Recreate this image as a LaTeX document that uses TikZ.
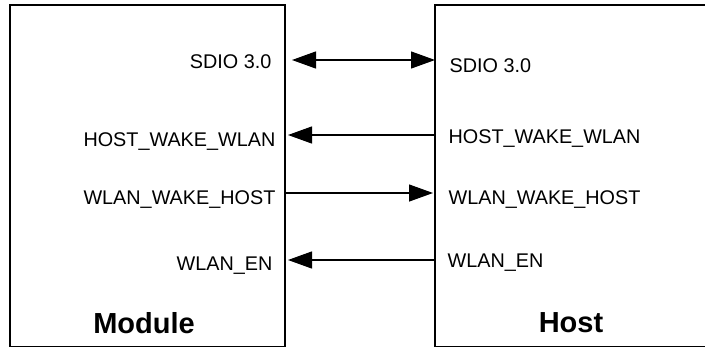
\documentclass[tikz,border=0pt]{standalone}
\usepackage{fontspec}
\setmainfont{Liberation Sans}
\usetikzlibrary{arrows.meta}

\begin{document}
\begin{tikzpicture}[x=1pt, y=-1pt, line width=1.3pt,
    sig/.style={font=\fontsize{19.8}{22}\selectfont, inner sep=0pt},
    title/.style={font=\fontsize{29}{32}\selectfont\bfseries, inner sep=0pt},
    tip/.style={-{Triangle[length=24pt,width=17pt]}},
    bothtips/.style={{Triangle[length=24pt,width=17pt]}-{Triangle[length=24pt,width=17pt]}}]
    \useasboundingbox (0,0) rectangle (705,346);
    \clip (0,0) rectangle (705,346);
    % the two blocks
    \node[draw, anchor=north west, minimum width=275pt, minimum height=342pt, outer sep=0pt] (module) at (10,5) {};
    \node[draw, anchor=north west, minimum width=290pt, minimum height=342pt, outer sep=0pt] (host) at (435,5) {};
    \node[title] (module-name) at (144,323) {Module};
    \node[title] (host-name) at (571,323) {Host};
    % module side
    \node[sig, anchor=base east] (m-sdio) at (272,68) {SDIO 3.0};
    \node[sig, anchor=base east] (m-hww) at (276,146) {HOST\_WAKE\_WLAN};
    \node[sig, anchor=base east] (m-wwh) at (276,204) {WLAN\_WAKE\_HOST};
    \node[sig, anchor=base east] (m-en) at (273,270) {WLAN\_EN};
    % host side
    \node[sig, anchor=base west] (h-sdio) at (449,72) {SDIO 3.0};
    \node[sig, anchor=base west] (h-hww) at (448,143) {HOST\_WAKE\_WLAN};
    \node[sig, anchor=base west] (h-wwh) at (448,204) {WLAN\_WAKE\_HOST};
    \node[sig, anchor=base west] (h-en) at (447,267) {WLAN\_EN};
    % connector ends
    \coordinate (a1) at (292,60);
    \coordinate (b1) at (435,60);
    \coordinate (a2) at (288,135);
    \coordinate (b2) at (435,135);
    \coordinate (a3) at (285,193);
    \coordinate (b3) at (433,193);
    \coordinate (a4) at (288,260);
    \coordinate (b4) at (435,260);
    \draw[bothtips] (a1) -- (b1);
    \draw[tip] (b2) -- (a2);
    \draw[tip] (a3) -- (b3);
    \draw[tip] (b4) -- (a4);
\end{tikzpicture}
\end{document}
